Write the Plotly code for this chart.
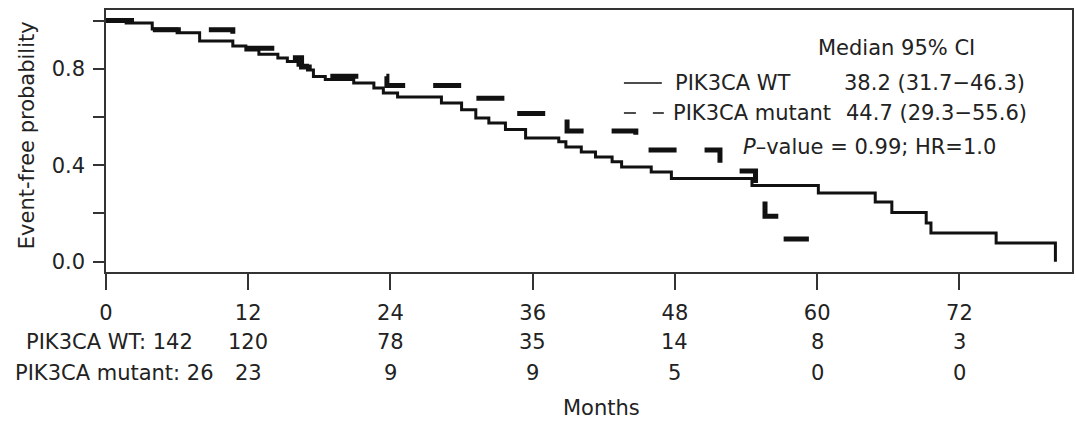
import plotly.graph_objects as go

# ---- data ----
wt_time = [0, 1.7, 3.9, 6.0, 7.9, 10.7, 11.8, 12.9, 14.5, 15.3, 16.2, 17.0, 17.5, 18.5,
           20.9, 22.6, 23.4, 24.6, 28.3, 30.0, 31.2, 32.3, 33.7, 35.4, 38.2, 38.8, 40.1,
           41.3, 42.7, 43.5, 46.0, 47.7, 54.5, 60.1, 64.9, 66.3, 69.2, 69.6, 75.1, 80.1]
wt_surv = [1.0, 0.99, 0.965, 0.95, 0.915, 0.895, 0.878, 0.86, 0.845, 0.83, 0.815, 0.795,
           0.768, 0.756, 0.741, 0.72, 0.70, 0.683, 0.658, 0.63, 0.596, 0.575, 0.548, 0.513,
           0.497, 0.476, 0.455, 0.434, 0.414, 0.393, 0.372, 0.345, 0.316, 0.285, 0.247,
           0.204, 0.16, 0.119, 0.077, 0.0]

mut_time = [0, 3.9, 10.7, 11.5, 14.6, 16.5, 18.0, 23.7, 30.5, 34.0, 38.9, 44.7, 51.8,
            54.8, 55.6, 56.8, 59.3]
mut_surv = [1.0, 0.962, 0.923, 0.885, 0.846, 0.808, 0.769, 0.731, 0.678, 0.615, 0.542,
            0.463, 0.376, 0.282, 0.188, 0.094, 0.094]

x_ticks = [0, 12, 24, 36, 48, 60, 72]
y_ticks = [0.0, 0.2, 0.4, 0.6, 0.8, 1.0]
y_ticklabels = ["0.0", "", "0.4", "", "0.8", ""]

risk_wt = [142, 120, 78, 35, 14, 8, 3]
risk_mut = [26, 23, 9, 9, 5, 0, 0]
risk_labels = ["PIK3CA WT", "PIK3CA mutant"]

legend_names = ["PIK3CA WT", "PIK3CA mutant"]
legend_ci = ["38.2 (31.7\u221246.3)", "44.7 (29.3\u221255.6)"]
stat_text = "<i>P</i>\u2013value = 0.99; HR=1.0"

FONT = "DejaVu Sans"
FS = 21
TXT = "#222222"

fig = go.Figure()
fig.add_trace(go.Scatter(x=wt_time, y=wt_surv, mode="lines", line_shape="hv",
                         line=dict(color="#111111", width=3), showlegend=False))
fig.add_trace(go.Scatter(x=mut_time, y=mut_surv, mode="lines", line_shape="hv",
                         line=dict(color="#111111", width=5, dash="28px,28px"),
                         showlegend=False))

W, H = 1077, 422
L, R, T, B = 106, 3, 10, 150
pw = W - L - R
ph = H - T - B


def px(xp):
    return (xp - L) / pw


def py(yp):
    return (H - B - yp) / ph


ann = []
# legend block
ann.append(dict(text="Median 95% CI", x=px(817), y=py(48), xanchor="left"))
ann.append(dict(text=legend_names[0], x=px(674), y=py(83), xanchor="left"))
ann.append(dict(text=legend_ci[0], x=px(844), y=py(83), xanchor="left"))
ann.append(dict(text=legend_names[1], x=px(672), y=py(113), xanchor="left"))
ann.append(dict(text=legend_ci[1], x=px(846), y=py(113), xanchor="left"))
ann.append(dict(text=stat_text, x=px(742), y=py(147), xanchor="left"))
for a in ann:
    a.update(xref="paper", yref="paper", yanchor="middle", showarrow=False,
             font=dict(family=FONT, size=FS, color=TXT))

# at-risk table
rows = [risk_wt, risk_mut]
row_y = [py(342), py(373)]
row_x = [px(24), px(13)]
for r, vals in enumerate(rows):
    ann.append(dict(text=f"{risk_labels[r]}: {vals[0]}", x=row_x[r], y=row_y[r],
                    xref="paper", yref="paper", xanchor="left", yanchor="middle",
                    showarrow=False, font=dict(family=FONT, size=FS, color=TXT)))
    for xv, v in zip(x_ticks[1:], vals[1:]):
        ann.append(dict(text=str(v), x=xv, y=row_y[r], xref="x", yref="paper",
                        xanchor="center", yanchor="middle", showarrow=False,
                        font=dict(family=FONT, size=FS, color=TXT)))

ann.append(dict(text="Months", x=px(603), y=py(408), xref="paper", yref="paper",
                xanchor="center", yanchor="middle", showarrow=False, borderpad=0,
                font=dict(family=FONT, size=FS, color=TXT)))
ann.append(dict(text="Event-free probability", x=px(27), y=py(135), xref="paper",
                yref="paper", xanchor="center", yanchor="middle", textangle=-90,
                showarrow=False, font=dict(family=FONT, size=FS, color=TXT)))

shapes = [
    dict(type="line", xref="paper", yref="paper", x0=px(625), x1=px(663),
         y0=py(83), y1=py(83), line=dict(color="#111111", width=1.5)),
    dict(type="line", xref="paper", yref="paper", x0=px(625), x1=px(637),
         y0=py(113), y1=py(113), line=dict(color="#111111", width=1.5)),
    dict(type="line", xref="paper", yref="paper", x0=px(654), x1=px(665),
         y0=py(113), y1=py(113), line=dict(color="#111111", width=1.5)),
]

fig.update_layout(
    width=W, height=H,
    margin=dict(l=L, r=R, t=T, b=B, pad=0),
    paper_bgcolor="white", plot_bgcolor="white",
    annotations=ann, shapes=shapes,
    font=dict(family=FONT, size=FS, color=TXT),
)
fig.update_xaxes(range=[0, 81.5], tickvals=x_ticks, ticktext=[str(v) for v in x_ticks],
                 ticks="outside", ticklen=16, tickwidth=1.5, tickcolor="#333333",
                 showline=True, linecolor="#333333", linewidth=1.5, mirror=True,
                 showgrid=False, zeroline=False, ticklabelstandoff=5,
                 tickfont=dict(family=FONT, size=FS, color=TXT))
fig.update_yaxes(range=[-0.043, 1.044], tickvals=y_ticks, ticktext=y_ticklabels,
                 ticks="outside", ticklen=11, tickwidth=1.5, tickcolor="#333333",
                 showline=True, linecolor="#333333", linewidth=1.5, mirror=True,
                 showgrid=False, zeroline=False, ticklabelstandoff=4,
                 tickfont=dict(family=FONT, size=FS, color=TXT))

fig.write_html("out.html")
